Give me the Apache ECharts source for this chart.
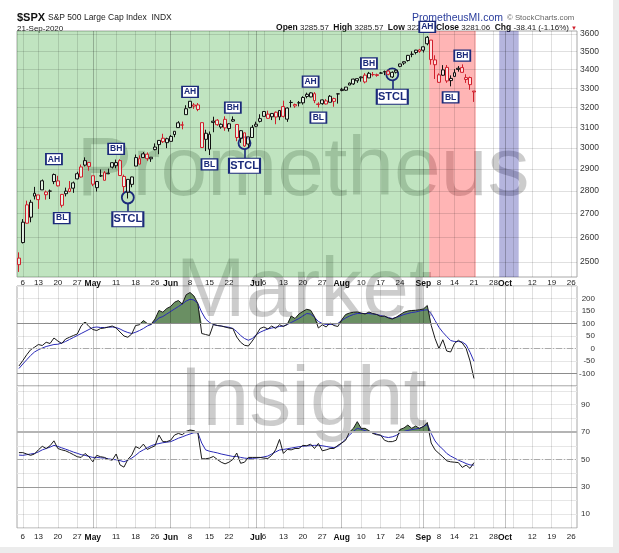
<!DOCTYPE html>
<html>
<head>
<meta charset="utf-8">
<script src="https://cdn.jsdelivr.net/npm/echarts@6/dist/echarts.min.js"></script>
<style>
html, body {margin:0; padding:0; background:#ececec;}
#chart {position:absolute; left:0; top:0; width:613px; height:547px; background:#fff;}
</style>
</head>
<body>
<div id="chart"></div>
<script>
// trading days, incl. the empty days to the right of the last bar
var dates = [
'Apr 3','Apr 6','Apr 7','Apr 8','Apr 9','Apr 13','Apr 14','Apr 15','Apr 16','Apr 17','Apr 20','Apr 21','Apr 22','Apr 23','Apr 24','Apr 27','Apr 28','Apr 29','Apr 30',
'May 1','May 4','May 5','May 6','May 7','May 8','May 11','May 12','May 13','May 14','May 15','May 18','May 19','May 20','May 21','May 22','May 26','May 27','May 28','May 29',
'Jun 1','Jun 2','Jun 3','Jun 4','Jun 5','Jun 8','Jun 9','Jun 10','Jun 11','Jun 12','Jun 15','Jun 16','Jun 17','Jun 18','Jun 19','Jun 22','Jun 23','Jun 24','Jun 25','Jun 26','Jun 29','Jun 30',
'Jul 1','Jul 2','Jul 6','Jul 7','Jul 8','Jul 9','Jul 10','Jul 13','Jul 14','Jul 15','Jul 16','Jul 17','Jul 20','Jul 21','Jul 22','Jul 23','Jul 24','Jul 27','Jul 28','Jul 29','Jul 30','Jul 31',
'Aug 3','Aug 4','Aug 5','Aug 6','Aug 7','Aug 10','Aug 11','Aug 12','Aug 13','Aug 14','Aug 17','Aug 18','Aug 19','Aug 20','Aug 21','Aug 24','Aug 25','Aug 26','Aug 27','Aug 28','Aug 31',
'Sep 1','Sep 2','Sep 3','Sep 4','Sep 8','Sep 9','Sep 10','Sep 11','Sep 14','Sep 15','Sep 16','Sep 17','Sep 18','Sep 21','Sep 22','Sep 23','Sep 24','Sep 25','Sep 28','Sep 29','Sep 30',
'Oct 1','Oct 2','Oct 5','Oct 6','Oct 7','Oct 8','Oct 9','Oct 12','Oct 13','Oct 14','Oct 15','Oct 16','Oct 19','Oct 20','Oct 21','Oct 22','Oct 23','Oct 26','Oct 27'
];

var prevClose = 2526.90;
var open = [
2514.92,2578.28,2738.65,2685.00,2776.99,2782.46,2805.10,2795.64,2799.34,2842.43,2845.62,2784.81,2787.89,2810.42,2812.64,2854.65,2909.96,2918.46,2930.91,
2869.09,2815.01,2868.88,2883.14,2878.26,2908.83,2915.46,2939.50,2865.86,2794.54,2829.95,2913.86,2948.59,2953.63,2969.95,2948.05,3004.08,3015.65,3046.61,3025.17,
3031.48,3064.78,3098.90,3111.56,3163.84,3199.92,3213.32,3213.42,3123.53,3071.04,2993.76,3131.00,3136.13,3101.64,3140.29,3094.42,3138.70,3114.40,3046.60,3073.20,3018.59,3050.20,
3105.92,3143.64,3155.29,3166.44,3153.07,3176.17,3152.47,3205.08,3141.11,3225.98,3208.36,3224.21,3224.29,3268.52,3254.86,3271.64,3218.58,3219.84,3234.27,3227.22,3231.76,3270.45,
3288.26,3289.92,3317.37,3323.17,3340.05,3356.04,3370.34,3355.46,3372.95,3368.66,3380.86,3387.04,3392.51,3360.48,3386.01,3418.09,3435.95,3449.97,3485.14,3494.69,3509.73,
3507.44,3543.76,3564.74,3453.60,3371.88,3369.82,3412.56,3352.70,3363.56,3407.73,3411.23,3346.86,3357.38,3285.57
];
var high = [
2538.18,2676.85,2756.89,2760.75,2818.57,2782.46,2851.85,2801.88,2806.51,2879.22,2868.98,2785.54,2815.10,2844.90,2842.71,2887.72,2921.15,2954.86,2930.91,
2869.09,2844.24,2898.23,2891.11,2901.92,2932.16,2944.25,2945.82,2874.14,2852.80,2865.01,2968.09,2964.21,2980.29,2978.50,2956.76,3021.72,3036.25,3068.67,3049.17,
3062.18,3081.07,3130.94,3128.91,3211.72,3233.13,3222.71,3223.27,3123.53,3088.42,3079.76,3153.45,3141.16,3120.00,3155.53,3120.92,3154.90,3115.01,3086.25,3073.73,3053.89,3111.51,
3128.44,3165.81,3182.59,3184.15,3171.80,3179.78,3186.82,3235.32,3200.95,3238.28,3220.39,3233.52,3258.61,3277.29,3279.32,3279.99,3227.26,3241.43,3243.72,3264.74,3250.92,3272.17,
3302.73,3306.84,3330.77,3351.03,3352.54,3363.29,3381.01,3387.89,3387.24,3378.51,3387.59,3395.06,3399.54,3390.80,3399.96,3432.09,3444.21,3481.07,3501.38,3509.23,3514.77,
3528.03,3588.11,3564.85,3479.15,3379.97,3424.77,3425.55,3368.95,3402.93,3419.48,3428.92,3375.17,3362.27,3285.57
];
var low = [
2459.96,2574.57,2657.67,2663.30,2762.36,2721.17,2805.10,2761.54,2764.32,2830.88,2820.43,2727.10,2775.95,2794.26,2791.76,2852.89,2860.71,2912.16,2892.47,
2821.61,2797.85,2863.55,2847.65,2876.48,2902.88,2903.44,2869.59,2793.15,2766.64,2816.78,2913.86,2922.35,2953.63,2938.57,2933.59,2988.17,2969.75,3023.40,2998.61,
3031.48,3051.64,3098.90,3090.41,3163.84,3196.00,3193.11,3181.49,2999.49,2984.47,2965.66,3076.06,3108.03,3093.51,3083.11,3079.39,3127.12,3032.13,3024.01,3004.63,2999.74,3047.83,
3101.17,3124.52,3155.29,3142.93,3136.53,3115.70,3136.22,3149.43,3127.66,3200.76,3198.59,3205.65,3215.16,3247.77,3253.10,3222.66,3200.05,3214.25,3216.17,3227.22,3204.13,3220.26,
3284.53,3286.37,3317.37,3318.14,3328.72,3335.44,3326.44,3355.46,3363.35,3361.64,3379.22,3370.15,3369.66,3354.69,3379.31,3413.13,3425.84,3444.15,3468.35,3484.32,3493.25,
3494.60,3535.23,3427.41,3349.63,3329.27,3366.84,3329.25,3310.47,3363.56,3389.25,3384.45,3328.82,3292.40,3229.10
];
var close = [
2488.65,2663.68,2659.41,2749.98,2789.82,2761.63,2846.06,2783.36,2799.55,2874.56,2823.16,2736.56,2799.31,2797.80,2836.74,2878.48,2863.39,2939.51,2912.43,
2830.71,2842.74,2868.44,2848.42,2881.19,2929.80,2930.32,2870.12,2820.00,2852.50,2863.70,2953.91,2922.94,2971.61,2948.51,2955.45,2991.77,3036.13,3029.73,3044.31,
3055.73,3080.82,3122.87,3112.35,3193.93,3232.39,3207.18,3190.14,3002.10,3041.31,3066.59,3124.74,3113.49,3115.34,3097.74,3117.86,3131.29,3050.33,3083.76,3009.05,3053.24,3100.29,
3115.86,3130.01,3179.72,3145.32,3169.94,3152.05,3185.04,3155.22,3197.52,3226.56,3215.57,3224.73,3251.84,3257.30,3276.02,3235.66,3215.63,3239.41,3218.44,3258.44,3246.22,3271.12,
3294.61,3306.51,3327.77,3349.16,3351.28,3360.47,3333.69,3380.35,3373.43,3372.85,3381.99,3389.78,3374.85,3385.51,3397.16,3431.28,3443.62,3478.73,3484.55,3508.01,3500.31,
3526.65,3580.84,3455.06,3426.96,3331.84,3398.96,3339.19,3340.97,3383.54,3401.20,3385.49,3357.01,3319.47,3281.06
];

// middle panel
var cci = [
-70,-48,-25,-5,5,16,12,25,20,42,
30,20,38,45,52,58,90,106,88,76,
72,80,82,86,90,82,66,50,45,58,
92,95,112,100,97,118,152,145,160,168,
185,192,178,215,224,210,180,60,56,52,
96,92,90,86,82,80,46,25,13,10,
30,53,80,86,78,90,80,95,88,96,
130,120,138,148,157,153,127,82,95,86,
102,92,88,115,136,142,145,146,142,138,
146,140,136,128,130,122,118,125,135,145,
150,152,153,155,158,172,93,40,0,35,
-10,-14,20,33,22,0,-50,-120
];
var cciSignal = [
-80,-62,-45,-28,-14,-5,2,8,12,16,
17,22,28,36,44,52,60,68,76,84,
86,84,84,85,86,84,78,70,64,60,
65,72,80,90,96,108,122,128,138,148,
158,168,178,190,197,194,180,145,118,104,
96,92,90,87,85,80,68,52,40,33,
40,55,65,72,78,82,85,88,90,96,
104,112,120,130,140,138,125,108,100,96,
96,98,100,112,122,130,136,140,140,140,
140,138,136,132,128,124,120,124,130,136,
140,144,146,150,153,155,140,112,85,65,
48,32,28,28,26,15,-15,-51
];

// lower panel
var rsi = [
55,55,54,53,54,57,59.6,58,60,63.6,
58,57,56.3,55,53.5,52,51.5,54.4,52,48.3,
53,52,51.5,50,49.5,54,46,44.4,50,53.2,
59.4,58,61.2,57.3,58.7,60,67.8,63,63,64,
67.8,69,68,70.5,71.5,71,69.5,50.5,50.5,51,
52.2,50,48,46.8,48,50,54.7,47.2,48,51.5,
51.5,51.5,51.5,51,50.7,53,57,64.6,54.4,57.3,
57,58,58,60.3,60,61.2,58,61.7,56.3,57,
58,58,60.3,62,64,70,72.7,77.6,72.7,72.7,
71,69,68,67.8,64,63,63,64,71.9,73,
75.1,72.7,74.4,72.7,74,77,62,57,54.4,51.9,
49,48.3,48,47.7,44.2,45.9,43.5,47.7
];
var rsiSignal = [
53.2,53,53.5,54,54.4,55.5,57,58,59,60.3,
59.5,58.5,57.5,56.5,55.4,54.5,53.5,53,52.2,51.5,
51.5,51.2,51,50.5,50,49.8,49.2,48.3,49.5,51,
53,55.4,57,58.5,60,61,61.6,62.2,62.6,63,
64.2,65.5,66.5,67.6,68.6,69.5,69.5,62,57,56,
55.4,54.8,54,53.4,52.8,52.2,52.2,51.5,51,50.7,
50.8,51,51.4,51.9,52.5,54,55.5,56.9,57.3,57.8,
58.3,58.8,59.3,59.6,59.9,60.1,60.3,60.3,60,59.5,
59,58.6,59.5,62,65,67.8,70.5,72.7,72,71,
70.2,69.4,68.5,67.5,66.5,66,66.5,67.5,69.5,70.5,
71.2,71.8,72.2,72.7,74,75.5,69,63.5,60,57.5,
54.4,52.5,51,49.5,48.3,47,46,45.9
];

// date axis labels
var tickDates = ['Apr 6','Apr 13','Apr 20','Apr 27','May 1','May 11','May 18','May 26','Jun 1','Jun 8','Jun 15','Jun 22','Jul 1','Jul 6','Jul 13','Jul 20','Jul 27','Aug 3','Aug 10','Aug 17','Aug 24','Sep 1','Sep 8','Sep 14','Sep 21','Sep 28','Oct 1','Oct 12','Oct 19','Oct 26'];
var tickText  = ['6','13','20','27','May','11','18','26','Jun','8','15','22','Jul','6','13','20','27','Aug','10','17','24','Sep','8','14','21','28','Oct','12','19','26'];
var weekLines = ['Apr 6','Apr 13','Apr 20','Apr 27','May 4','May 11','May 18','May 26','Jun 8','Jun 15','Jun 22','Jun 29','Jul 6','Jul 13','Jul 20','Jul 27','Aug 10','Aug 17','Aug 24','Aug 31','Sep 8','Sep 14','Sep 21','Sep 28','Oct 5','Oct 12','Oct 19','Oct 26'];
var monthLines = ['May 1','Jun 1','Jul 1','Aug 3','Sep 1','Oct 1'];
var priceTicks = [2500,2600,2700,2800,2900,3000,3100,3200,3300,3400,3500,3600];

// shaded zones (first day, last day)
var zoneFrom = ['Apr 3','Sep 3','Sep 30'];
var zoneTo   = ['Sep 2','Sep 21','Oct 6'];
var zoneColor = ['rgba(60,170,60,0.32)','rgba(255,0,0,0.29)','rgba(0,0,143,0.29)'];

// annotations
var noteText  = ['AH','BL','BH','STCL','AH','BL','BH','STCL','AH','BL','BH','STCL','AH','BH','BL'];
var noteDate  = ['Apr 17','Apr 21','May 11','May 14','Jun 8','Jun 15','Jun 23','Jun 26','Jul 22','Jul 24','Aug 12','Aug 20','Sep 2','Sep 16','Sep 11'];
var notePrice = [2946,2681,2995,2676,3281,2922,3200,2915,3335,3149,3435,3256,3641,3477,3253];
var ringDate  = ['May 14','Jun 26','Aug 20'];
var ringPrice = [2771,3023,3375];
var stemFrom  = [2745,2995,3343];
var stemTo    = [2710,2950,3297];

var FONT = 'Liberation Sans, Arial, sans-serif';
var RED = '#d01f2c';
var NAVY = '#1b2a7a';
var N = dates.length;
var PMIN = 2440, PMAX = 3617, TOP_H = 246;

var candleData = close.map(function (c, i) {
  var pc = i === 0 ? prevClose : close[i - 1];
  var col = c >= pc ? '#111' : RED;
  return {value: [open[i], c, low[i], high[i]],
    itemStyle: {color: 'rgba(255,255,255,0.55)', color0: col, borderColor: col, borderColor0: col}};
});

function idx(d) { return dates.indexOf(d); }

function vLines() {
  var out = [];
  weekLines.forEach(function (d) { out.push({xAxis: idx(d) + 0.5, lineStyle: {color: 'rgba(0,0,0,0.12)'}}); });
  monthLines.forEach(function (d) { out.push({xAxis: idx(d) + 0.5, lineStyle: {color: 'rgba(0,0,0,0.24)'}}); });
  return out;
}

function catAxis(g, show, margin) {
  return {
    type: 'category', gridIndex: g, data: dates, boundaryGap: true,
    axisLine: {show: false}, axisTick: {show: false}, splitLine: {show: false},
    axisLabel: {
      show: show, margin: margin, fontFamily: FONT, fontSize: 8, color: '#222',
      interval: function (i, v) { return tickDates.indexOf(v) >= 0; },
      formatter: function (v) {
        var k = tickDates.indexOf(v);
        if (k < 0) return '';
        var t = tickText[k];
        return /^[A-Z]/.test(t) ? '{m|' + t + '}' : t;
      },
      rich: {m: {fontWeight: 'bold', fontSize: 8.5, fontFamily: FONT, color: '#111'}}
    }
  };
}
function helpAxis(g) {
  return {type: 'value', gridIndex: g, min: 0, max: N, show: false};
}

// a note placed above the price range is pinned to the top and lifted by the remaining distance
function notePoint(t, d, p) {
  var big = t === 'STCL';
  var lift = p > PMAX ? -TOP_H * Math.log(p / PMAX) / Math.log(PMAX / PMIN) : 0;
  return {coord: [d, Math.min(p, PMAX)], symbol: 'rect', symbolSize: big ? [31, 15] : [16, 11],
    symbolOffset: [0, lift],
    itemStyle: {color: '#fff', borderColor: NAVY, borderWidth: 1.5},
    label: {show: true, position: 'inside', formatter: t, color: NAVY, fontWeight: 'bold',
      fontFamily: FONT, fontSize: big ? 11 : 8.5}};
}

var markLineBase = {symbol: 'none', silent: true, animation: false, label: {show: false}, lineStyle: {type: 'solid', width: 1}};
var wm = {font: '84px ' + FONT, fill: 'rgba(0,0,0,0.2)', textAlign: 'center', textVerticalAlign: 'middle'};

var option = {
  animation: false,
  grid: [
    {left: 17, right: 36, top: 31, height: TOP_H, show: true, borderColor: '#a8a8a8', borderWidth: 1},
    {left: 17, right: 36, top: 286, height: 100, show: true, borderColor: '#a8a8a8', borderWidth: 1},
    {left: 17, right: 36, top: 386, height: 142, show: true, borderColor: '#a8a8a8', borderWidth: 1}
  ],
  xAxis: [catAxis(0, true, 2), catAxis(1, false, 0), catAxis(2, true, 5), helpAxis(0), helpAxis(1), helpAxis(2)],
  yAxis: [
    {type: 'log', logBase: 10, gridIndex: 0, min: PMIN, max: PMAX, position: 'right',
     axisLabel: {show: false}, axisLine: {show: false}, axisTick: {show: false}, splitLine: {show: false}},
    {type: 'value', gridIndex: 1, min: -150, max: 250, interval: 50, position: 'right',
     axisLine: {show: false}, axisTick: {show: false},
     splitLine: {lineStyle: {color: '#e6e6e6'}},
     axisLabel: {margin: 18, align: 'right', fontFamily: FONT, fontSize: 8, color: '#333',
       formatter: function (v) { return (v > 200 || v < -100) ? '' : v; }}},
    {type: 'value', gridIndex: 2, min: 0, max: 103.6, interval: 10, position: 'right',
     axisLine: {show: false}, axisTick: {show: false},
     splitLine: {lineStyle: {color: '#e6e6e6'}},
     axisLabel: {margin: 4, fontFamily: FONT, fontSize: 8, color: '#333',
       formatter: function (v) { return (v % 20 === 10) ? v : ''; }}}
  ],
  graphic: [
    {type: 'text', z: 1, silent: true, style: Object.assign({text: 'Prometheus', x: 303, y: 172}, wm)},
    {type: 'text', z: 1, silent: true, style: Object.assign({text: 'Market', x: 304, y: 293}, wm)},
    {type: 'text', z: 1, silent: true, style: Object.assign({text: 'Insight', x: 303, y: 402}, wm)},
    {type: 'text', z: 1, style: {text: '$SPX', x: 17, y: 18, textVerticalAlign: 'middle', font: 'bold 11px ' + FONT, fill: '#111'}},
    {type: 'text', z: 1, style: {text: 'S&P 500 Large Cap Index  INDX', x: 48, y: 18, textVerticalAlign: 'middle', font: '8.5px ' + FONT, fill: '#222'}},
    {type: 'text', z: 1, style: {text: '21-Sep-2020', x: 17, y: 29, textVerticalAlign: 'middle', font: '8px ' + FONT, fill: '#222'}},
    {type: 'text', z: 1, style: {text: 'PrometheusMI.com', x: 412, y: 18, textVerticalAlign: 'middle', font: '10.5px ' + FONT, fill: '#2a3d9c'}},
    {type: 'text', z: 1, style: {text: '\u00a9 StockCharts.com', x: 507, y: 18, textVerticalAlign: 'middle', font: '7.8px ' + FONT, fill: '#666'}},
    {type: 'text', z: 1, style: {
      text: '{b|Open} 3285.57  {b|High} 3285.57  {b|Low} 3229.1  {b|Close} 3281.06  {b|Chg} -38.41 (-1.16%)',
      x: 569, y: 28, textAlign: 'right', textVerticalAlign: 'middle', font: '8px ' + FONT, fill: '#222',
      rich: {b: {fontWeight: 'bold', fontSize: 8.5, fontFamily: FONT, fill: '#111'}}}},
    {type: 'text', z: 1, style: {text: '\u25bc', x: 571, y: 28, textVerticalAlign: 'middle', font: '6px ' + FONT, fill: RED}}
  ],
  series: [
    // top panel background zones + grid lines
    {type: 'line', xAxisIndex: 3, yAxisIndex: 0, data: [], z: 0, silent: true,
     markArea: {silent: true, data: zoneFrom.map(function (d, i) {
       return [{xAxis: idx(d), itemStyle: {color: zoneColor[i]}}, {xAxis: idx(zoneTo[i]) + 1}];
     })},
     markLine: Object.assign({}, markLineBase, {data: vLines().concat(priceTicks.map(function (p) {
       return {yAxis: p, lineStyle: {color: 'rgba(0,0,0,0.12)'},
         label: {show: true, position: 'end', distance: 3, formatter: String(p), fontFamily: FONT, fontSize: 8.5, color: '#333'}};
     }))})},
    {type: 'candlestick', xAxisIndex: 0, yAxisIndex: 0, data: candleData, barWidth: 3.4, z: 5,
     itemStyle: {borderWidth: 1}},
    {type: 'line', xAxisIndex: 0, yAxisIndex: 0, data: [], z: 10, silent: true,
     markPoint: {silent: true, animation: false, data: noteText.map(function (t, i) {
       return notePoint(t, noteDate[i], notePrice[i]);
     }).concat(ringDate.map(function (d, i) {
       return {coord: [d, ringPrice[i]], symbol: 'circle', symbolSize: 12,
         itemStyle: {color: 'rgba(0,0,0,0)', borderColor: NAVY, borderWidth: 1.8}, label: {show: false}};
     }))},
     markLine: Object.assign({}, markLineBase, {lineStyle: {color: NAVY, width: 1.6, type: 'solid'},
       data: ringDate.map(function (d, i) { return [{coord: [d, stemFrom[i]]}, {coord: [d, stemTo[i]]}]; })})},

    // middle panel
    {type: 'line', xAxisIndex: 4, yAxisIndex: 1, data: [], z: 0, silent: true,
     markLine: Object.assign({}, markLineBase, {data: vLines().concat([
       {yAxis: 100, lineStyle: {color: '#8c8c8c', width: 1.2}},
       {yAxis: -100, lineStyle: {color: '#8c8c8c', width: 1.2}},
       {yAxis: 0, lineStyle: {color: '#aaa', width: 1, type: [6, 2, 1, 2]}}
     ])})},
    {type: 'line', xAxisIndex: 1, yAxisIndex: 1, z: 2, symbol: 'none', silent: true,
     data: cci.map(function (v) { return Math.max(v, 100); }),
     lineStyle: {width: 0, opacity: 0}, areaStyle: {origin: 100, color: '#6a8f63', opacity: 1}},
    {type: 'line', xAxisIndex: 1, yAxisIndex: 1, z: 3, symbol: 'none', data: cciSignal,
     lineStyle: {color: '#2a2ab8', width: 1}},
    {type: 'line', xAxisIndex: 1, yAxisIndex: 1, z: 4, symbol: 'none', data: cci,
     lineStyle: {color: '#1a1a1a', width: 1}},

    // lower panel
    {type: 'line', xAxisIndex: 5, yAxisIndex: 2, data: [], z: 0, silent: true,
     markLine: Object.assign({}, markLineBase, {data: vLines().concat([
       {yAxis: 70, lineStyle: {color: '#b4b4b4', width: 2}},
       {yAxis: 30, lineStyle: {color: '#9a9a9a', width: 1.2}},
       {yAxis: 50, lineStyle: {color: '#aaa', width: 1, type: [6, 2, 1, 2]}}
     ])})},
    {type: 'line', xAxisIndex: 2, yAxisIndex: 2, z: 2, symbol: 'none', silent: true,
     data: rsi.map(function (v) { return Math.max(v, 70); }),
     lineStyle: {width: 0, opacity: 0}, areaStyle: {origin: 70, color: '#6a8f63', opacity: 1}},
    {type: 'line', xAxisIndex: 2, yAxisIndex: 2, z: 3, symbol: 'none', data: rsiSignal,
     lineStyle: {color: '#2a2ab8', width: 1}},
    {type: 'line', xAxisIndex: 2, yAxisIndex: 2, z: 4, symbol: 'none', data: rsi,
     lineStyle: {color: '#1a1a1a', width: 1}}
  ]
};

var myChart = echarts.init(document.getElementById('chart'), null, {renderer: 'canvas'});
myChart.setOption(option);
</script>
</body>
</html>
